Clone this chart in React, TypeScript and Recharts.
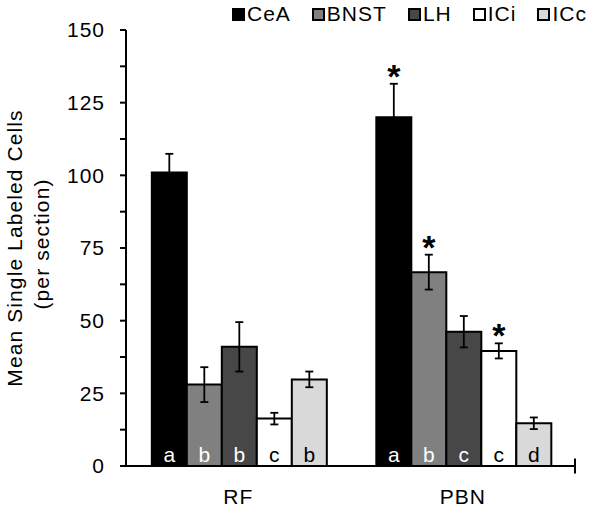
import React from 'react';
import { BarChart, Bar, XAxis, YAxis, ErrorBar, LabelList, Legend, ReferenceLine } from 'recharts';

const FONT = '"Liberation Sans", Arial, sans-serif';

const regions = ['RF', 'PBN'];

const ceaMeans = [101, 120];
const ceaErrs = [6.4, 11.5];
const ceaLetters = ['a', 'a'];
const ceaStars = [false, true];

const bnstMeans = [28, 66.7];
const bnstErrs = [6, 6];
const bnstLetters = ['b', 'b'];
const bnstStars = [false, true];

const lhMeans = [41, 46.2];
const lhErrs = [8.5, 5.4];
const lhLetters = ['b', 'c'];
const lhStars = [false, false];

const iciMeans = [16.3, 39.6];
const iciErrs = [2, 2.6];
const iciLetters = ['c', 'c'];
const iciStars = [false, true];

const iccMeans = [29.8, 14.7];
const iccErrs = [2.7, 2];
const iccLetters = ['b', 'd'];
const iccStars = [false, false];

const yTicks = [0, 12.5, 25, 37.5, 50, 62.5, 75, 87.5, 100, 112.5, 125, 137.5, 150];

const series = [
  { key: 'CeA', mean: ceaMeans, err: ceaErrs, letters: ceaLetters, stars: ceaStars, color: '#000000', text: '#ffffff' },
  { key: 'BNST', mean: bnstMeans, err: bnstErrs, letters: bnstLetters, stars: bnstStars, color: '#808080', text: '#ffffff' },
  { key: 'LH', mean: lhMeans, err: lhErrs, letters: lhLetters, stars: lhStars, color: '#474747', text: '#ffffff' },
  { key: 'ICi', mean: iciMeans, err: iciErrs, letters: iciLetters, stars: iciStars, color: '#ffffff', text: '#000000' },
  { key: 'ICc', mean: iccMeans, err: iccErrs, letters: iccLetters, stars: iccStars, color: '#d9d9d9', text: '#000000' },
];

const data = regions.map((region, i) => {
  const row: any = { region };
  series.forEach((s) => {
    row[s.key] = s.mean[i];
    row[s.key + 'Err'] = s.err[i];
  });
  return row;
});

const LegendBox = () => (
  <div
    style={{
      display: 'flex',
      alignItems: 'center',
      gap: 21,
      fontFamily: FONT,
      fontSize: 21,
      letterSpacing: 1,
      color: '#000',
    }}
  >
    {series.map((s) => (
      <div key={s.key} style={{ display: 'flex', alignItems: 'center' }}>
        <span
          style={{
            display: 'inline-block',
            width: 9,
            height: 9,
            border: '2px solid #000',
            background: s.color,
            marginRight: 2,
          }}
        />
        <span>{s.key}</span>
      </div>
    ))}
  </div>
);

const YTitle = () => (
  <g fontFamily={FONT} fontSize={21} fill="#000" letterSpacing={1.1}>
    <text x={14} y={248} transform="rotate(-90 14 248)" textAnchor="middle" dominantBaseline="central">
      Mean Single Labeled Cells
    </text>
    <text x={41} y={244} transform="rotate(-90 41 244)" textAnchor="middle" dominantBaseline="central">
      (per section)
    </text>
  </g>
);

export default function App() {
  return (
    <div style={{ position: 'absolute', left: 0, top: 0 }}>
      <BarChart
        width={600}
        height={510}
        data={data}
        margin={{ top: 30, right: 25, bottom: 14, left: 0 }}
        barCategoryGap="11.5%"
        barGap={0}
      >
        <XAxis
          dataKey="region"
          tickLine={false}
          axisLine={{ stroke: '#000', strokeWidth: 2 }}
          tick={{ fill: '#000', fontSize: 21, fontFamily: FONT, letterSpacing: 1 }}
          tickMargin={17}
        />
        <XAxis xAxisId="b" type="number" domain={[0, 2]} hide />
        <YAxis
          width={126}
          domain={[0, 150]}
          ticks={yTicks}
          interval={0}
          tickFormatter={(v: number) => (v % 25 === 0 ? String(v) : '')}
          axisLine={{ stroke: '#000', strokeWidth: 2 }}
          tickLine={{ stroke: '#000', strokeWidth: 2 }}
          tickSize={6}
          tickMargin={15}
          tick={{ fill: '#000', fontSize: 21, fontFamily: FONT, letterSpacing: 1 }}
          label={() => <YTitle />}
        />
        <Legend
          layout="horizontal"
          verticalAlign="middle"
          align="center"
          wrapperStyle={{ top: 2, left: 232, width: 368 }}
          content={() => <LegendBox />}
        />
        {[1, 2].map((b) => (
          <ReferenceLine
            key={b}
            xAxisId="b"
            segment={[{ x: b, y: -2.6 }, { x: b, y: 2.6 }]}
            stroke="#000"
            strokeWidth={2}
            ifOverflow="visible"
          />
        ))}
        {series.map((s) => (
          <Bar key={s.key} dataKey={s.key} fill={s.color} stroke="#000" strokeWidth={2} isAnimationActive={false}>
            <ErrorBar dataKey={s.key + 'Err'} width={4} stroke="#000" strokeWidth={1.8} direction="y" />
            <LabelList
              dataKey={s.key}
              content={(p: any) => (
                <text
                  x={p.x + p.width / 2}
                  y={p.y + p.height - 4}
                  textAnchor="middle"
                  fontFamily={FONT}
                  fontSize={21}
                  fill={s.text}
                >
                  {s.letters[p.index]}
                </text>
              )}
            />
            <LabelList
              dataKey={s.key}
              content={(p: any) => {
                if (!s.stars[p.index]) return null;
                const errPx = (p.height * s.err[p.index]) / s.mean[p.index];
                return (
                  <text
                    x={p.x + p.width / 2}
                    y={p.y - errPx + 4}
                    textAnchor="middle"
                    fontFamily={FONT}
                    fontSize={34}
                    fontWeight="bold"
                    fill="#000"
                  >
                    *
                  </text>
                );
              }}
            />
          </Bar>
        ))}
      </BarChart>
    </div>
  );
}
